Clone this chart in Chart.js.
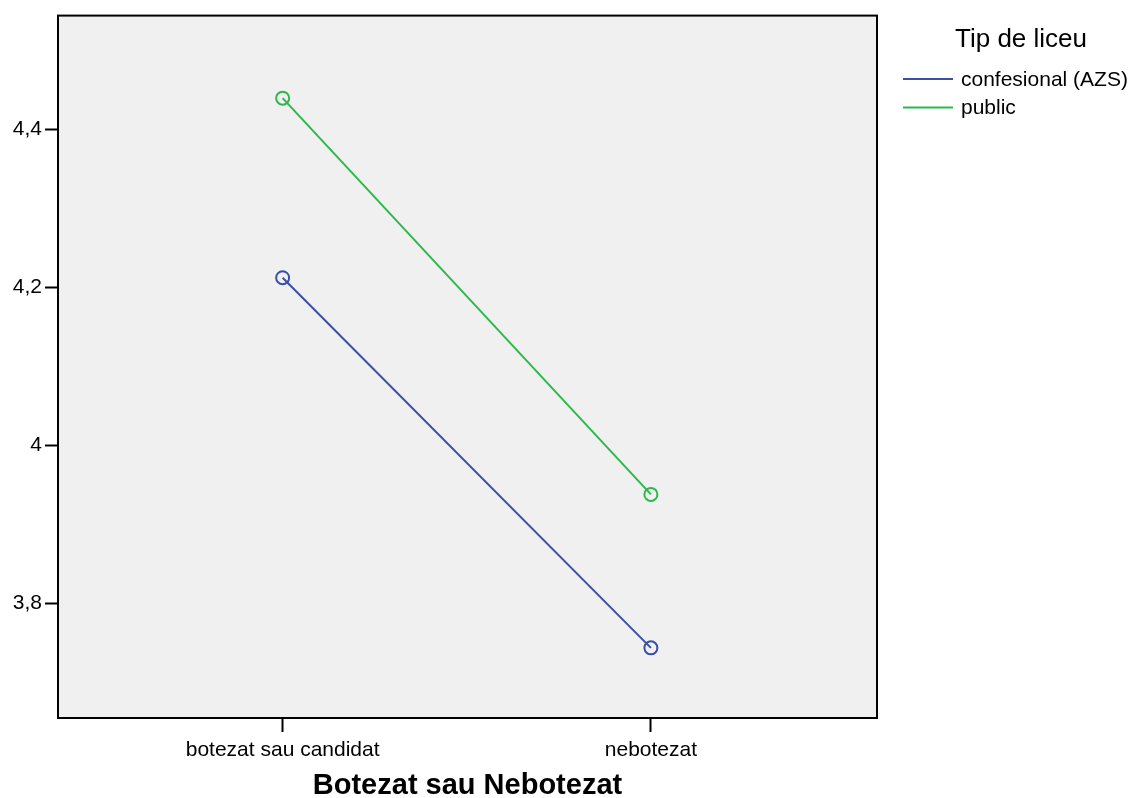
<!DOCTYPE html>
<html>
<head>
<meta charset="utf-8">
<script src="https://cdn.jsdelivr.net/npm/chart.js@4"></script>
<style>
  html, body { margin: 0; padding: 0; background: #fff; }
  #wrap { width: 1131px; height: 798px; }
</style>
</head>
<body>
<div id="wrap"><canvas id="chartLiceu"></canvas></div>
<script>
// date
const categorii = ['botezat sau candidat', 'nebotezat'];
const serieNume = ['confesional (AZS)', 'public'];
const valoriConfesional = [4.212, 3.744];
const valoriPublic = [4.439, 3.938];
const ticksY = [3.8, 4.0, 4.2, 4.4];
const titluLegenda = 'Tip de liceu';
const titluX = 'Botezat sau Nebotezat';

const blue = '#3a4fa6'
const green = '#2cb84a'
const font = 'Liberation Sans, Arial, sans-serif'

const toPoints = vals => vals.map((v, i) => ({ x: i, y: v }))
const fmt = v => String(+v.toFixed(1)).replace('.', ',')

// fundal gri + chenar complet in jurul zonei de desen
const plotBox = {
    id: 'plotBox',
    beforeDraw(chart) {
        const { ctx, chartArea: a } = chart
        ctx.save()
        ctx.fillStyle = '#f0f0f0'
        ctx.fillRect(a.left, a.top, a.right - a.left, a.bottom - a.top)
        ctx.restore()
    },
    afterDraw(chart) {
        const { ctx, chartArea: a } = chart
        ctx.save()
        ctx.strokeStyle = '#000'
        ctx.lineWidth = 2
        ctx.strokeRect(a.left, a.top, a.right - a.left, a.bottom - a.top)
        ctx.restore()
    }
}

// legenda in dreapta, ca in SPSS
const sideLegend = {
    id: 'sideLegend',
    afterDraw(chart) {
        const { ctx } = chart
        ctx.save()
        ctx.fillStyle = '#000'
        ctx.textBaseline = 'middle'
        ctx.textAlign = 'center'
        ctx.font = '26px ' + font
        ctx.fillText(titluLegenda, 1021, 40)
        ctx.textAlign = 'left'
        ctx.font = '21px ' + font
        chart.data.datasets.forEach((ds, i) => {
            const y = 79 + i * 28.5
            ctx.strokeStyle = ds.borderColor
            ctx.lineWidth = 2
            ctx.beginPath()
            ctx.moveTo(903, y)
            ctx.lineTo(953, y)
            ctx.stroke()
            ctx.fillText(ds.label, 961, y + 1)
        })
        ctx.restore()
    }
}

new Chart(document.getElementById('chartLiceu'), {
    type: 'line',
    data: {
        datasets: [
            { label: serieNume[0], data: toPoints(valoriConfesional), borderColor: blue, backgroundColor: 'transparent' },
            { label: serieNume[1], data: toPoints(valoriPublic), borderColor: green, backgroundColor: 'transparent' }
        ]
    },
    options: {
        responsive: true,
        maintainAspectRatio: false,
        animation: false,
        layout: { padding: { left: 0, right: 254, top: 14, bottom: 0 } },
        elements: {
            line: { borderWidth: 2, tension: 0 },
            point: { radius: 6.5, borderWidth: 2, pointStyle: 'circle', hoverRadius: 6.5 }
        },
        plugins: { legend: { display: false }, tooltip: { enabled: false } },
        scales: {
            x: {
                type: 'linear',
                min: -0.61,
                max: 1.614,
                afterBuildTicks: s => { s.ticks = categorii.map((_, i) => ({ value: i })) },
                afterFit: s => { s.height = 80 },
                ticks: {
                    callback: v => categorii[v],
                    color: '#000',
                    font: { family: font, size: 21 },
                    padding: 6,
                    maxRotation: 0
                },
                grid: { drawOnChartArea: false, tickLength: 14, tickWidth: 2, tickColor: '#000' },
                border: { display: false },
                title: {
                    display: true,
                    text: titluX,
                    color: '#000',
                    font: { family: font, size: 29, weight: 'bold', lineHeight: 0.8 },
                    padding: { top: 0, bottom: 0 }
                }
            },
            y: {
                min: 3.6553,
                max: 4.5434,
                afterBuildTicks: s => { s.ticks = ticksY.map(v => ({ value: v })) },
                afterFit: s => { s.width = 58 },
                ticks: {
                    callback: v => fmt(v),
                    color: '#000',
                    font: { family: font, size: 21 },
                    padding: 3
                },
                grid: { drawOnChartArea: false, tickLength: 13, tickWidth: 2, tickColor: '#000' },
                border: { display: false }
            }
        }
    },
    plugins: [plotBox, sideLegend]
})
</script>
</body>
</html>
